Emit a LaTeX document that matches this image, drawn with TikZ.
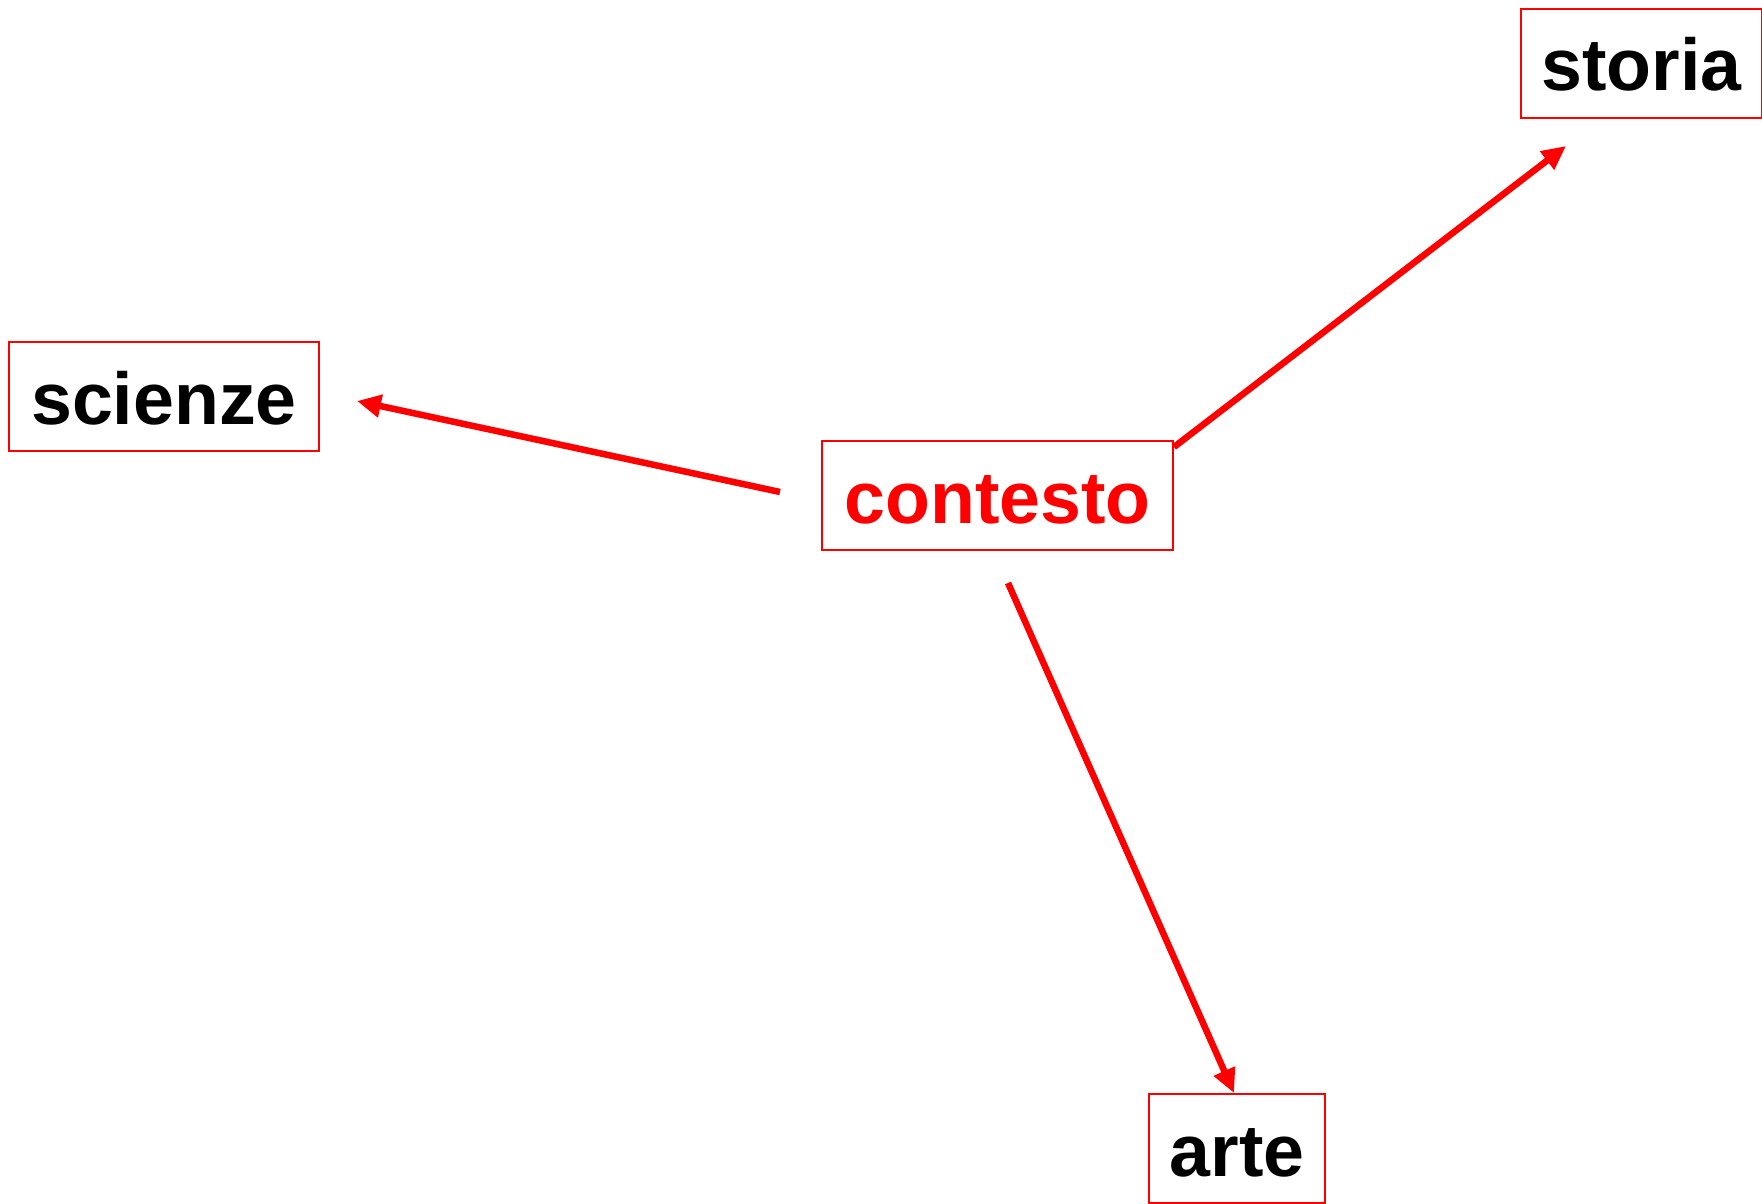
\documentclass[tikz,border=0pt]{standalone}
\usepackage{fontspec}
\setmainfont{Liberation Sans}
\usetikzlibrary{arrows.meta}
\definecolor{pred}{RGB}{255,0,0}
\tikzset{
  box/.style={draw=pred, line width=2.5pt, inner sep=0pt, text height=82pt, text depth=27pt,
    font=\fontsize{73.5}{80}\selectfont\bfseries},
  link/.style={draw=pred, line width=6.5pt, -{Triangle[length=24pt,width=22pt]}}
}
\begin{document}
\begin{tikzpicture}[x=1pt,y=-1pt]
\useasboundingbox (0,0) rectangle (1762,1204);
\clip (0,0) rectangle (1762,1204);
\node[box, minimum width=241pt] (storia) at (1641.5,63.5) {storia};
\node[box, minimum width=310pt] (scienze) at (164,396.5) {scienze};
\node[box, minimum width=351pt, text=pred] (contesto) at (997.5,495.5) {contesto};
\node[box, minimum width=176pt] (arte) at (1237,1148.5) {arte};
\coordinate (c1) at (1174,447);
\coordinate (t1) at (1566,146);
\coordinate (c2) at (780,492);
\coordinate (t2) at (357,401);
\coordinate (c3) at (1008,583);
\coordinate (t3) at (1234,1093);
\draw[link] (c1) -- (t1);
\draw[link] (c2) -- (t2);
\draw[link] (c3) -- (t3);
\end{tikzpicture}
\end{document}
